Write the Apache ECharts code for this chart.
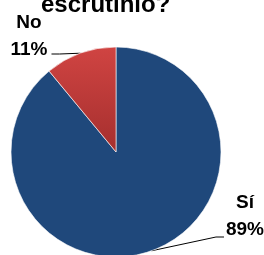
<!DOCTYPE html>
<html>
<head>
<meta charset="utf-8">
<script src="https://cdn.jsdelivr.net/npm/echarts@6/dist/echarts.min.js"></script>
<style>
  html, body { margin: 0; padding: 0; background: #fff; }
  #chart { width: 264px; height: 255px; }
</style>
</head>
<body>
<div id="chart"></div>
<script>
const categories = ['Sí', 'No']
const values = [89, 11]
const titleText = 'escrutinio?'

const sliceColors = [
  '#1F487B',
  new echarts.graphic.LinearGradient(0, 0, 0, 1, [
    { offset: 0, color: '#D04442' },
    { offset: 1, color: '#A52F2E' }
  ])
]

// label anchor points (top-center of each label block)
const labelSpots = [
  { x: 244, y: 189 },
  { x: 31, y: 9 }
]
// extra bottom padding so the leader line meets the lower text line
const labelPads = [
  [0, 0, 42, 2],
  [0, 4, 36, 0]
]

const chart = echarts.init(document.getElementById('chart'))

chart.setOption({
  animation: false,
  title: {
    text: titleText,
    left: 36,
    top: -12,
    textStyle: {
      fontFamily: 'Liberation Sans',
      fontWeight: 'bold',
      fontSize: 24,
      color: '#000'
    }
  },
  series: [{
    type: 'pie',
    center: [116, 152],
    radius: 105,
    startAngle: 90,
    clockwise: true,
    data: categories.map((name, i) => ({
      name,
      value: values[i],
      itemStyle: { color: sliceColors[i] },
      label: { padding: labelPads[i] }
    })),
    itemStyle: {
      borderColor: '#fff',
      borderWidth: 0.6
    },
    label: {
      show: true,
      formatter: '{b}\n{d}%',
      fontFamily: 'Liberation Sans',
      fontWeight: 'bold',
      fontSize: 19,
      lineHeight: 27,
      color: '#000',
      align: 'center'
    },
    labelLine: {
      show: true,
      length: 0,
      length2: 8,
      lineStyle: { color: '#000', width: 1 }
    },
    labelLayout: params => {
      const spot = labelSpots[params.dataIndex]
      return { x: spot.x, y: spot.y, align: 'center', verticalAlign: 'top' }
    }
  }]
})
</script>
</body>
</html>
